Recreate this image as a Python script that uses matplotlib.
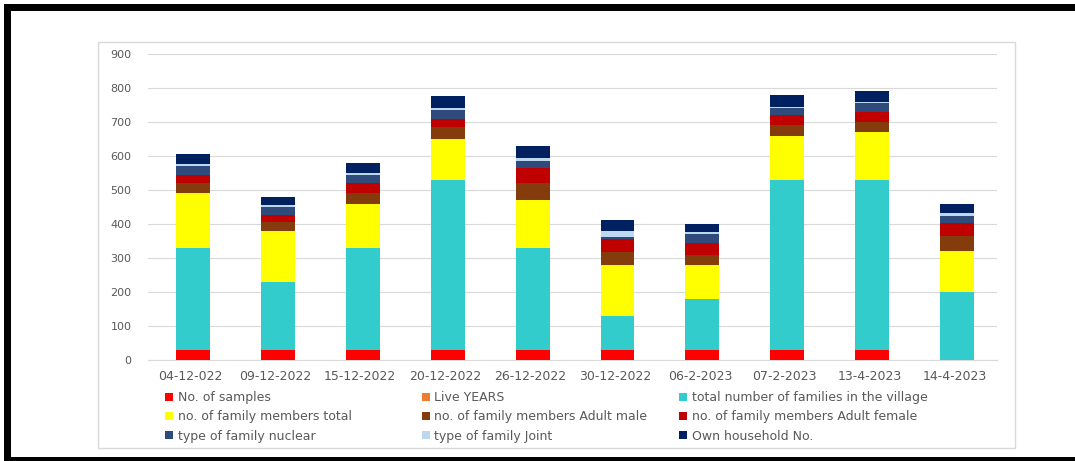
import matplotlib.pyplot as plt
from matplotlib.patches import Rectangle
import numpy as np

# dates on the x axis
dates = ["04-12-022", "09-12-2022", "15-12-2022", "20-12-2022", "26-12-2022",
         "30-12-2022", "06-2-2023", "07-2-2023", "13-4-2023", "14-4-2023"]

# stacked series, bottom to top
samples = [30, 30, 30, 30, 30, 30, 30, 30, 30, 0]
live_years = [0, 0, 0, 0, 0, 0, 0, 0, 0, 0]
families_village = [300, 200, 300, 500, 300, 100, 150, 500, 500, 200]
members_total = [160, 150, 130, 120, 140, 150, 100, 130, 140, 120]
adult_male = [30, 25, 30, 35, 50, 37, 30, 30, 30, 45]
adult_female = [25, 20, 30, 25, 45, 38, 35, 30, 30, 37]
nuclear = [25, 25, 25, 25, 20, 8, 25, 20, 25, 22]
joint = [5, 5, 5, 5, 10, 17, 5, 5, 5, 7]
own_household = [30, 25, 30, 35, 35, 32, 25, 35, 30, 29]

series = [samples, live_years, families_village, members_total, adult_male,
          adult_female, nuclear, joint, own_household]
labels = ["No. of samples", "Live YEARS", "total number of families in the village",
          "no. of family members total", "no. of family members Adult male",
          "no. of family members Adult female", "type of family nuclear",
          "type of family Joint", "Own household No."]
colors = ["#FF0000", "#ED7D31", "#33CCCC", "#FFFF00", "#843C0C",
          "#C00000", "#2F4B7C", "#BDD7EE", "#002060"]

W, H = 1075, 461
fig = plt.figure(figsize=(W / 100, H / 100), dpi=100)
ax = fig.add_axes([148 / W, 1 - 360 / H, (997 - 148) / W, (360 - 54) / H])

x = np.arange(len(dates))
bottom = np.zeros(len(dates))
handles = []
for vals, lab, col in zip(series, labels, colors):
    b = ax.bar(x + 0.03, vals, width=0.4, bottom=bottom, color=col, label=lab, zorder=3)
    handles.append(b)
    bottom += np.array(vals)

ax.set_xlim(-0.5, len(dates) - 0.5)
ax.set_ylim(0, 900)
ax.set_yticks(np.arange(0, 901, 100))
ax.set_xticks(x)
ax.set_xticklabels(dates)
ax.grid(axis="y", color="#D9D9D9", linewidth=0.8, zorder=0)
for s in ["top", "right", "left"]:
    ax.spines[s].set_visible(False)
ax.spines["bottom"].set_color("#D9D9D9")
ax.tick_params(axis="both", length=0, colors="#595959", labelsize=8)
ax.tick_params(axis="x", pad=7, labelsize=9)
ax.tick_params(axis="y", pad=12)

# legend in three columns, Excel-style row order
col_x = [165, 422, 679]
for c in range(3):
    idx = [c, c + 3, c + 6]
    leg = fig.legend([handles[i] for i in idx], [labels[i] for i in idx],
                     loc="upper left", bbox_to_anchor=(col_x[c] / W, 1 - 391 / H),
                     frameon=False, fontsize=9, handlelength=0.6, handleheight=0.6,
                     handletextpad=0.4, labelspacing=0.5, borderpad=0, borderaxespad=0)
    for t in leg.get_texts():
        t.set_color("#595959")

# chart area border and black frame
fig.add_artist(Rectangle((98 / W, 1 - 448 / H), (1015 - 98) / W, (448 - 42) / H,
                         transform=fig.transFigure, fill=False, edgecolor="#D9D9D9", linewidth=1))
fig.add_artist(Rectangle((4 / W, 1 - 11 / H), 1 - 4 / W, 7 / H, transform=fig.transFigure,
                         color="black", linewidth=0))
fig.add_artist(Rectangle((4 / W, 0), 7 / W, 1 - 4 / H, transform=fig.transFigure,
                         color="black", linewidth=0))
fig.add_artist(Rectangle((4 / W, 0), 1 - 4 / W, 4 / H, transform=fig.transFigure,
                         color="black", linewidth=0))

fig.savefig("out.png", dpi=100)
